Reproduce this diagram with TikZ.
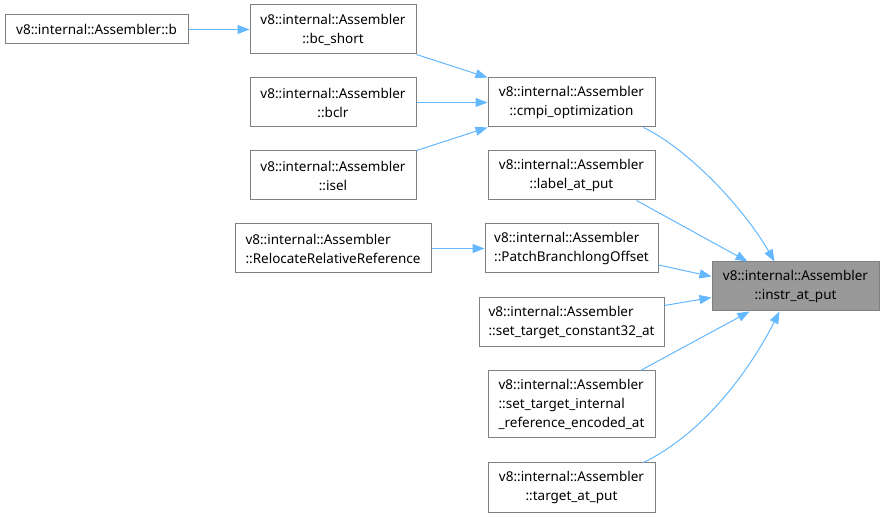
\documentclass[tikz,border=0pt]{standalone}
\usepackage{fontspec}
\setmainfont{Noto Sans}
\usetikzlibrary{arrows.meta}
\definecolor{edgeblue}{HTML}{63B8FF}
\definecolor{boxborder}{HTML}{808080}
\definecolor{hlfill}{HTML}{999999}
\tikzset{
  fn/.style={draw=boxborder, line width=1pt, fill=white, inner sep=0pt, font=\fontsize{13.5}{19}\selectfont, anchor=center},
  hl/.style={fn, fill=hlfill},
  edge/.style={draw=edgeblue, line width=1pt, -{Triangle[length=12pt,width=9pt]}},
}
\begin{document}
\begin{tikzpicture}[x=1pt,y=-1pt]
\useasboundingbox (0,0) rectangle (884,518);
\fill[white] (0,0) rectangle (884,518);
% nodes (centre x,y ; width x height)
\node[fn, minimum width=183pt, minimum height=29pt] (b) at (96.5,29.5) {v8::internal::Assembler::b};
\node[fn, minimum width=166pt, minimum height=49pt, align=center] (bcs) at (333,29.5) {v8::internal::Assembler\\::bc\_short};
\node[fn, minimum width=166pt, minimum height=49pt, align=center] (bclr) at (333,102.5) {v8::internal::Assembler\\::bclr};
\node[fn, minimum width=166pt, minimum height=49pt, align=center] (isel) at (333,175.5) {v8::internal::Assembler\\::isel};
\node[fn, minimum width=196pt, minimum height=49pt, align=left] (reloc) at (333,248.5) {v8::internal::Assembler\\::RelocateRelativeReference};
\node[fn, minimum width=167pt, minimum height=49pt, align=center] (cmpi) at (571.5,102.5) {v8::internal::Assembler\\::cmpi\_optimization};
\node[fn, minimum width=167pt, minimum height=49pt, align=center] (label) at (571.5,175.5) {v8::internal::Assembler\\::label\_at\_put};
\node[fn, minimum width=173pt, minimum height=49pt, align=left] (patch) at (571.5,248.5) {v8::internal::Assembler\\::PatchBranchlongOffset};
\node[fn, minimum width=185pt, minimum height=49pt, align=left] (stc) at (571.5,322.5) {v8::internal::Assembler\\::set\_target\_constant32\_at};
\node[fn, minimum width=167pt, minimum height=67pt, align=left] (sti) at (571.5,404.5) {v8::internal::Assembler\\::set\_target\_internal\\\_reference\_encoded\_at};
\node[fn, minimum width=167pt, minimum height=49pt, align=center] (tap) at (571.5,487.5) {v8::internal::Assembler\\::target\_at\_put};
\node[hl, minimum width=167pt, minimum height=49pt, align=center] (instr) at (795.5,286.5) {v8::internal::Assembler\\::instr\_at\_put};
% edges
\draw[edge] (b) -- (bcs);
\draw[edge] (bcs.south east) -- (cmpi.north west);
\draw[edge] (bclr) -- (cmpi);
\draw[edge] (isel.north east) -- (cmpi.south west);
\draw[edge] (reloc) -- (patch);
\draw[edge] ([xshift=-12pt]cmpi.south east) .. controls (690,150) and (745,210) .. ([xshift=63pt]instr.north west);
\draw[edge] ([xshift=-19pt]label.south east) -- ([xshift=36pt]instr.north west);
\draw[edge] ([yshift=-16.5pt]patch.east) -- ([yshift=10pt]instr.west);
\draw[edge] ([yshift=-8pt]stc.north east) -- ([yshift=14pt]instr.south west);
\draw[edge] ([xshift=-15pt]sti.north east) -- ([xshift=38pt]instr.south west);
\draw[edge] ([xshift=-12pt]tap.north east) .. controls (710,430) and (755,360) .. ([xshift=68pt]instr.south west);
\end{tikzpicture}
\end{document}
